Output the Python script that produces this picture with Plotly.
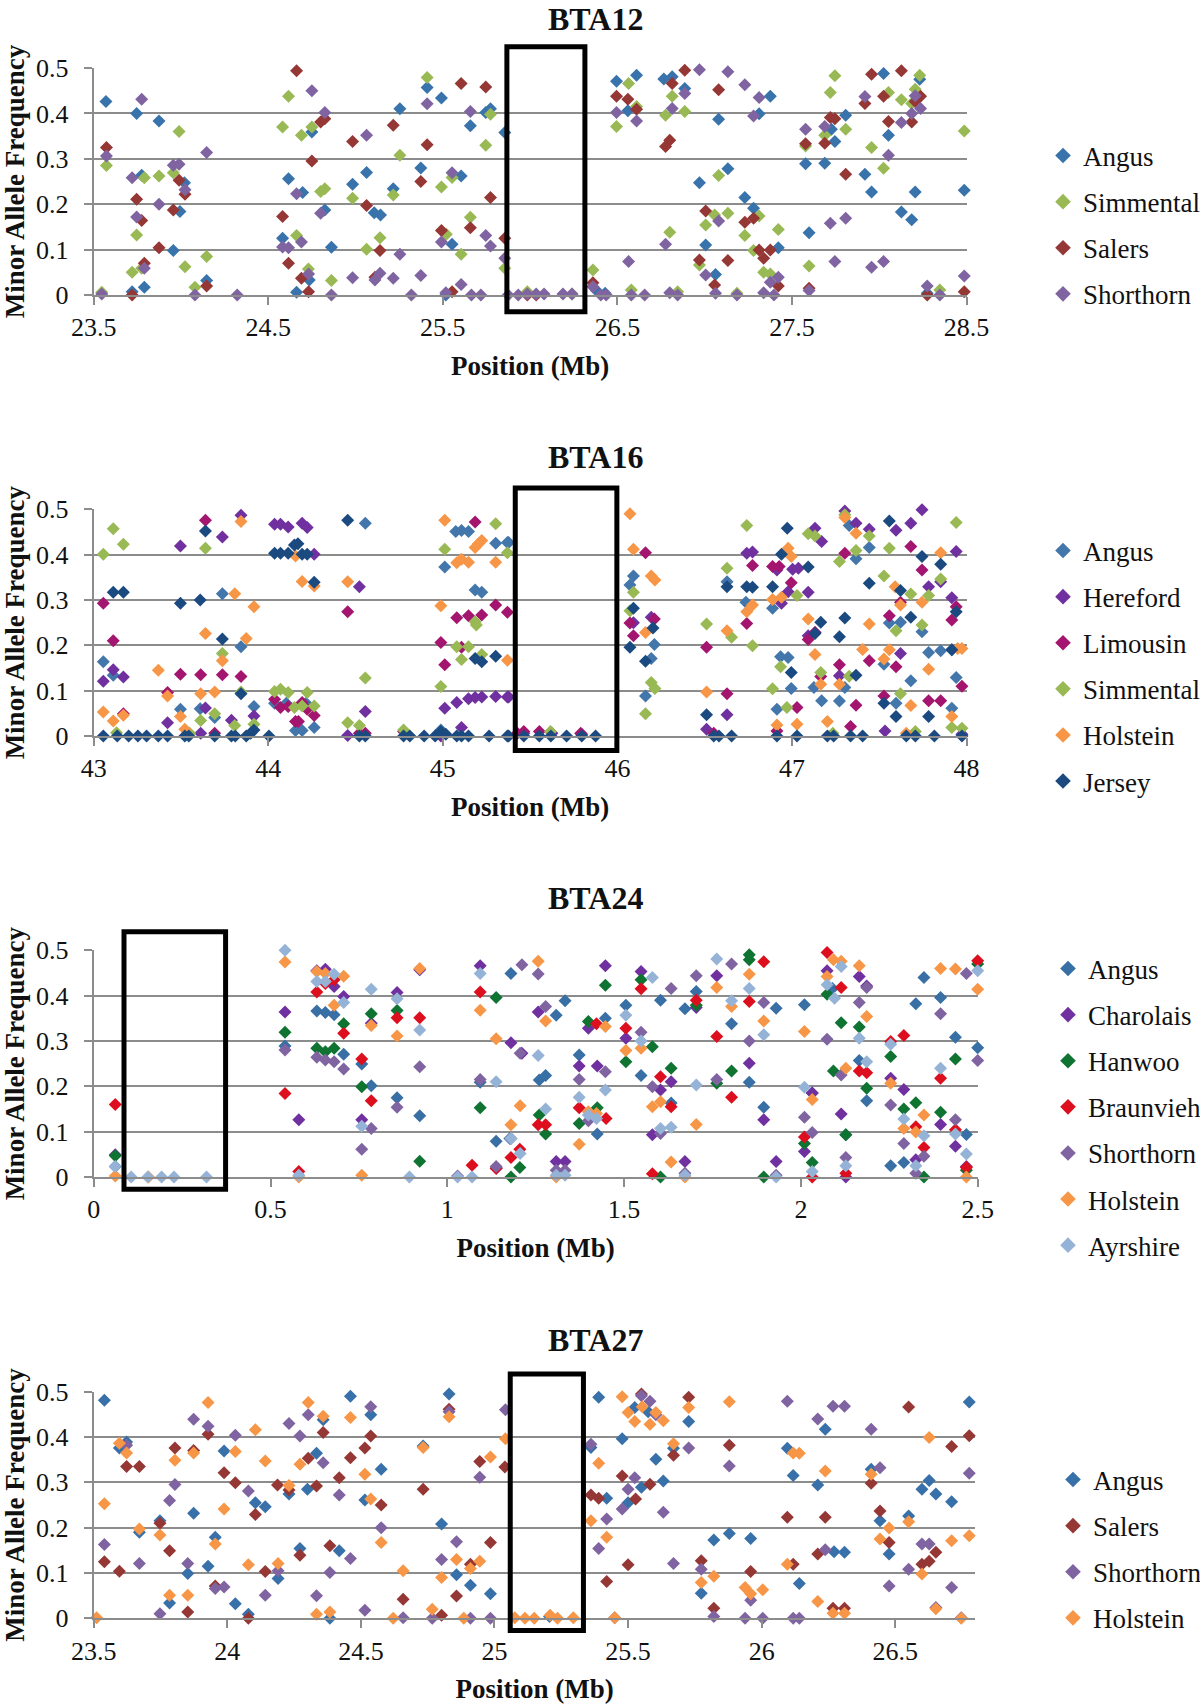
import plotly.graph_objects as go

FONT = "Liberation Serif"
GREY = "#8c8c8c"

# ---------- BTA12 ----------
bta12_angus = [(23.57,.426),(23.746,.40),(23.874,.383),(23.775,.264),(24.02,.247),(23.994,.184),(23.956,.098),(23.79,.017),(23.72,.007),(24.147,.032),(24.616,.256),(24.697,.226),(24.75,.359),(24.582,.125),(24.662,.006),(24.735,.033),(24.824,.187),(24.862,.105),(24.983,.244),(25.063,.27),(25.107,.181),(25.143,.176),(25.216,.234),(25.254,.41),(25.374,.28),(25.41,.457),(25.492,.434),(25.605,.262),(25.553,.112),(25.658,.373),(25.746,.402),(25.773,.41),(25.855,.358),(25.517,0),(26.495,.471),(26.61,.484),(26.56,.406),(26.766,.476),(26.814,.481),(26.886,.455),(26.97,.247),(27.08,.387),(27.133,.278),(27.23,.215),(27.28,.191),(27.312,.399),(27.376,.438),(27.422,.104),(27.006,.11),(27.062,.045),(27.578,.289),(27.688,.29),(27.746,.338),(27.726,.365),(27.808,.396),(27.598,.137),(27.918,.266),(27.956,.227),(28.025,.488),(28.053,.352),(28.127,.183),(28.186,.166),(28.206,.227),(28.232,.475),(28.487,.231),(28.275,.004),(26.38,.01),(26.43,.004)]
bta12_simmental = [(23.546,.006),(23.573,.285),(23.72,.05),(23.746,.132),(23.775,.059),(23.79,.258),(23.874,.262),(23.956,.269),(23.989,.36),(24.023,.062),(24.08,.017),(24.147,.085),(24.582,.37),(24.616,.438),(24.662,.131),(24.69,.352),(24.75,.37),(24.73,.057),(24.8,.228),(24.824,.234),(24.862,.032),(24.983,.213),(25.063,.101),(25.14,.126),(25.254,.308),(25.216,.22),(25.41,.479),(25.492,.238),(25.52,.134),(25.553,.259),(25.605,.09),(25.658,.171),(25.746,.33),(25.773,.398),(25.855,.059),(25.984,.007),(26.24,.002),(26.36,.055),(26.495,.371),(26.564,.466),(26.61,.415),(26.58,.011),(26.776,.396),(26.814,.438),(26.886,.404),(26.845,.007),(26.8,.138),(26.97,.066),(27.006,.154),(27.057,.176),(27.08,.263),(27.133,.18),(27.185,.004),(27.23,.131),(27.28,.098),(27.312,.174),(27.338,.05),(27.376,.046),(27.422,.144),(27.578,.328),(27.598,.064),(27.688,.352),(27.72,.446),(27.746,.483),(27.808,.365),(27.956,.325),(28.025,.279),(28.053,.446),(28.127,.43),(28.186,.422),(28.206,.453),(28.232,.484),(28.347,.011),(28.487,.361)]
bta12_salers = [(23.573,.325),(23.72,0),(23.746,.211),(23.775,.164),(23.79,.07),(23.874,.104),(23.956,.187),(23.989,.253),(24.023,.222),(24.147,.02),(24.582,.173),(24.616,.07),(24.662,.494),(24.69,.037),(24.731,.007),(24.75,.295),(24.8,.381),(24.824,.388),(24.983,.338),(25.063,.197),(25.14,.098),(25.111,.039),(25.216,.374),(25.374,.25),(25.41,.331),(25.492,.142),(25.553,.007),(25.605,.466),(25.658,.148),(25.746,.458),(25.773,.215),(25.855,.125),(25.984,0),(26.035,0),(26.36,.027),(26.495,.438),(26.56,.431),(26.61,.409),(26.8,.341),(26.776,.327),(26.814,.466),(26.886,.495),(26.97,.077),(27.006,.185),(27.057,.022),(27.08,.452),(27.133,.076),(27.23,.16),(27.28,.169),(27.312,.099),(27.338,.081),(27.376,.099),(27.422,.02),(27.578,.333),(27.598,.015),(27.688,.334),(27.72,.391),(27.746,.388),(27.808,.266),(27.918,.422),(27.956,.486),(28.025,.438),(28.053,.382),(28.127,.494),(28.186,.381),(28.206,.426),(28.237,.438),(28.275,0),(28.487,.007)]
bta12_shorthorn = [(23.546,.002),(23.573,.306),(23.72,.258),(23.746,.172),(23.775,.431),(23.79,.059),(23.874,.2),(23.956,.286),(23.989,.288),(24.023,.232),(24.08,0),(24.147,.314),(24.322,0),(24.582,.106),(24.616,.104),(24.662,.223),(24.69,.117),(24.731,.046),(24.75,.45),(24.8,.18),(24.824,.402),(24.862,0),(24.983,.038),(25.063,.352),(25.111,.033),(25.14,.048),(25.216,.037),(25.254,.09),(25.32,0),(25.374,.043),(25.41,.421),(25.492,.117),(25.517,.005),(25.553,.269),(25.605,.023),(25.658,.404),(25.664,0),(25.718,0),(25.746,.131),(25.773,.108),(25.855,.081),(25.874,0),(25.932,0),(25.984,.002),(26.035,.002),(26.08,.002),(26.188,.002),(26.24,.002),(26.36,.018),(26.405,0),(26.436,0),(26.495,.402),(26.564,.074),(26.58,0),(26.61,.383),(26.656,0),(26.776,.112),(26.8,.005),(26.814,.411),(26.845,0),(26.886,.444),(26.97,.496),(27.006,.044),(27.062,.004),(27.08,.163),(27.133,.492),(27.185,0),(27.23,.463),(27.28,.394),(27.312,.435),(27.338,.005),(27.376,.028),(27.397,0),(27.422,.039),(27.578,.365),(27.598,.01),(27.688,.371),(27.72,.158),(27.746,.074),(27.808,.169),(27.918,.437),(27.956,.061),(28.025,.074),(28.053,.308),(28.127,.38),(28.186,.4),(28.206,.439),(28.237,.411),(28.275,.02),(28.347,0),(28.487,.042)]

# ---------- BTA16 ----------
bta16_angus = [(43.055,.164),(43.112,.134),(43.497,.059),(43.61,.06),(43.693,.041),(43.737,.314),(43.844,.197),(43.918,.065),(44.036,.072),(44.103,.072),(44.156,.012),(44.194,.012),(44.263,.019),(44.217,.072),(44.556,.469),(45.011,.373),(45.074,.451),(45.107,.453),(45.147,.451),(45.185,.322),(45.223,.317),(45.303,.425),(45.37,.427),(44.989,.013),(45.377,.427),(46.072,.333),(46.092,.353),(46.212,.202),(46.161,.088),(46.194,.171),(46.628,.34),(46.736,.295),(46.889,.282),(46.935,.175),(46.978,.173),(46.914,.059),(46.996,.105),(47.126,.107),(47.17,.078),(47.272,.077),(47.303,.107),(47.328,.464),(47.367,.391),(47.443,.416),(47.527,.158),(47.558,.249),(47.596,.072),(47.622,.251),(47.681,.122),(47.745,.23),(47.783,.184),(47.852,.188),(47.916,.061),(47.941,.129),(47.916,.19)]
bta16_hereford = [(43.055,.121),(43.112,.146),(43.17,.13),(43.423,.029),(43.497,.419),(43.613,.006),(43.64,.062),(43.737,.439),(43.789,.035),(43.844,.487),(43.918,.044),(44.036,.467),(44.07,.467),(44.114,.461),(44.194,.469),(44.223,.46),(44.263,.401),(44.455,.001),(44.522,.329),(44.556,.054),(44.989,0),(45.011,.061),(45.08,.074),(45.107,.019),(45.147,.082),(45.185,.085),(45.223,.086),(45.303,.087),(45.37,.086),(45.377,.086),(45.464,.006),(45.625,.006),(45.796,.004),(46.092,.25),(46.194,.262),(46.511,.015),(46.628,.047),(46.741,.403),(46.774,.406),(46.914,.366),(46.94,.293),(46.978,.318),(47.004,.368),(47.037,.37),(47.093,.317),(47.132,.458),(47.17,.429),(47.093,.221),(47.132,.228),(47.272,.133),(47.303,.496),(47.367,.469),(47.443,.456),(47.533,.011),(47.596,.454),(47.622,.182),(47.681,.469),(47.745,.499),(47.783,.329),(47.852,.34),(47.916,.305),(47.941,.407),(47.974,.004)]
bta16_limousin = [(43.055,.293),(43.112,.21),(43.17,.049),(43.423,.096),(43.497,.136),(43.613,.135),(43.64,.476),(43.693,.006),(43.737,.135),(43.844,.131),(44.036,.081),(44.07,.063),(44.114,.065),(44.156,.032),(44.173,.032),(44.194,.074),(44.223,.059),(44.263,.045),(44.455,.274),(44.522,.006),(44.556,.006),(44.775,.01),(44.989,.206),(45.011,.157),(45.08,.261),(45.107,.196),(45.147,.265),(45.185,.472),(45.223,.267),(45.303,.289),(45.37,.273),(45.427,.006),(45.464,.01),(45.553,.01),(45.79,.006),(46.072,.249),(46.092,.221),(46.161,.404),(46.212,.258),(46.511,.196),(46.552,.006),(46.628,.093),(46.741,.248),(46.774,.376),(46.889,.374),(46.927,.374),(46.914,.011),(46.996,.338),(47.029,.063),(47.093,.213),(47.132,.228),(47.165,.131),(47.272,.157),(47.303,.403),(47.336,.021),(47.367,.068),(47.443,.166),(47.527,.088),(47.558,.265),(47.596,.153),(47.622,.295),(47.681,.418),(47.745,.366),(47.783,.078),(47.852,.078),(47.916,.256),(47.941,.285),(47.974,.11)]
bta16_simmental = [(43.055,.401),(43.112,.457),(43.17,.423),(43.131,.007),(43.55,.006),(43.613,.034),(43.64,.414),(43.693,.049),(43.737,.182),(43.808,.023),(43.844,.097),(43.918,.026),(44.036,.098),(44.07,.103),(44.114,.096),(44.15,.063),(44.194,.066),(44.223,.096),(44.263,.066),(44.455,.029),(44.522,.023),(44.556,.128),(44.775,.013),(44.989,.109),(45.011,.412),(45.08,.197),(45.107,.169),(45.147,.197),(45.185,.252),(45.192,.245),(45.223,.18),(45.303,.468),(45.37,.404),(45.617,.01),(46.072,.276),(46.092,.317),(46.161,.049),(46.194,.118),(46.215,.105),(46.511,.247),(46.628,.37),(46.654,.218),(46.741,.464),(46.774,.199),(46.889,.104),(46.935,.153),(46.971,.063),(47.029,.31),(47.093,.446),(47.132,.441),(47.165,.14),(47.234,.006),(47.272,.385),(47.303,.488),(47.328,.132),(47.367,.409),(47.443,.441),(47.527,.353),(47.558,.414),(47.596,.232),(47.622,.093),(47.681,.313),(47.707,.01),(47.745,.245),(47.783,.31),(47.852,.346),(47.916,.019),(47.974,.017),(47.941,.471)]
bta16_holstein = [(43.055,.053),(43.112,.033),(43.17,.046),(43.37,.145),(43.423,.088),(43.497,.043),(43.522,.015),(43.613,.093),(43.64,.226),(43.693,.097),(43.737,.166),(43.808,.314),(43.844,.473),(43.874,.215),(43.918,.285),(44.156,.397),(44.194,.341),(44.263,.331),(44.455,.34),(44.989,.287),(45.011,.476),(45.08,.382),(45.107,.39),(45.147,.383),(45.185,.416),(45.204,.424),(45.223,.431),(45.303,.383),(45.37,.167),(46.072,.49),(46.092,.412),(46.161,.228),(46.194,.353),(46.215,.344),(46.511,.097),(46.628,.232),(46.741,.274),(46.774,.289),(46.889,.301),(46.914,.024),(46.94,.306),(46.978,.414),(46.996,.396),(47.029,.026),(47.093,.258),(47.132,.18),(47.165,.114),(47.203,.032),(47.272,.114),(47.303,.482),(47.367,.447),(47.405,.191),(47.443,.247),(47.527,.17),(47.558,.19),(47.591,.329),(47.622,.289),(47.655,.006),(47.681,.067),(47.745,.295),(47.783,.147),(47.852,.404),(47.916,.043),(47.949,.193),(47.974,.193)]
bta16_jersey = [(43.055,0),(43.112,.317),(43.135,0),(43.17,.317),(43.2,0),(43.253,0),(43.303,0),(43.37,0),(43.423,0),(43.497,.293),(43.522,0),(43.545,0),(43.61,.3),(43.64,.452),(43.693,0),(43.737,.214),(43.789,0),(43.811,0),(43.844,.093),(43.874,0),(43.899,.006),(43.918,.013),(44.004,0),(44.036,.403),(44.07,.403),(44.114,.403),(44.15,.421),(44.17,.424),(44.194,.401),(44.223,.401),(44.263,.339),(44.455,.476),(44.522,0),(44.556,0),(44.775,0),(44.811,0),(44.893,0),(44.956,0),(44.989,.01),(45.017,.004),(45.08,0),(45.107,0),(45.147,0),(45.185,.171),(45.223,.164),(45.303,.176),(45.265,0),(45.37,0),(45.377,0),(45.464,0),(45.553,0),(45.619,0),(45.709,0),(45.796,0),(45.875,0),(46.072,.196),(46.092,.282),(46.161,.165),(46.204,.238),(46.511,.047),(46.552,0),(46.582,0),(46.628,.329),(46.654,0),(46.741,.329),(46.774,.328),(46.889,.329),(46.914,0),(46.94,.401),(46.973,.458),(46.996,.14),(47.029,0),(47.093,.373),(47.132,.226),(47.165,.251),(47.203,0),(47.239,0),(47.272,.219),(47.303,.26),(47.336,0),(47.367,.134),(47.405,0),(47.443,.337),(47.527,.072),(47.558,.474),(47.596,.043),(47.622,.321),(47.655,0),(47.681,.262),(47.707,0),(47.745,.396),(47.783,.043),(47.816,0),(47.852,.379),(47.916,.19),(47.941,.274),(47.974,0)]

# ---------- BTA24 ----------
bta24_angus = [(.061,.023),(.541,.289),(.631,.366),(.655,.363),(.68,.358),(.707,.271),(.758,.249),(.785,.201),(.858,.175),(.922,.135),(1.093,.209),(1.138,.079),(1.18,.449),(1.26,.214),(1.278,.224),(1.308,.357),(1.333,.389),(1.373,.269),(1.424,.095),(1.447,.35),(1.505,.379),(1.548,.224),(1.603,.39),(1.633,.163),(1.672,.371),(1.704,.409),(1.804,.338),(1.854,.209),(1.895,.154),(1.93,.372),(2.01,.38),(2.032,.185),(2.089,.416),(2.127,.093),(2.165,.257),(2.186,.168),(2.254,.025),(2.291,.032),(2.325,.382),(2.348,.44),(2.395,.396),(2.437,.308),(2.468,.094),(2.5,.285),(1.177,.085)]
bta24_charolais = [(.061,.049),(.541,.364),(.58,.126),(.631,.455),(.655,.458),(.68,.42),(.707,.398),(.758,.126),(.785,.339),(.858,.407),(.922,.457),(1.093,.466),(1.18,.296),(1.139,.02),(1.211,.273),(1.257,.364),(1.308,.034),(1.333,.034),(1.373,.245),(1.399,.328),(1.424,.245),(1.447,.466),(1.505,.306),(1.548,.453),(1.58,.093),(1.603,.192),(1.633,.21),(1.672,.034),(1.704,.374),(1.762,.444),(1.854,.251),(1.895,.126),(1.93,.034),(2.01,.056),(2.032,.185),(2.074,.455),(2.095,.501),(2.114,.139),(2.127,0),(2.165,.442),(2.186,.421),(2.254,.218),(2.291,.193),(2.325,.038),(2.395,.116),(2.437,.068),(2.468,.023)]
bta24_hanwoo = [(.061,.047),(.541,.319),(.631,.284),(.655,.276),(.68,.284),(.707,.338),(.758,.199),(.785,.36),(.858,.367),(.922,.035),(1.093,.153),(1.138,.396),(1.18,0),(1.205,.021),(1.26,.137),(1.278,.095),(1.373,.118),(1.399,.343),(1.424,.153),(1.447,.423),(1.505,.254),(1.548,.435),(1.58,.287),(1.603,0),(1.633,.24),(1.704,.379),(1.762,.207),(1.804,.234),(1.854,.49),(1.854,.479),(1.895,0),(2.01,.074),(2.032,.032),(2.074,.403),(2.092,.234),(2.114,.34),(2.127,.093),(2.165,.331),(2.186,.196),(2.254,.266),(2.291,.15),(2.325,.164),(2.348,0),(2.395,.143),(2.437,.26),(2.468,.015),(2.5,.47)]
bta24_braunvieh = [(.061,.16),(.541,.184),(.58,.012),(.631,.408),(.655,.427),(.68,.435),(.707,.317),(.758,.26),(.785,.168),(.858,.351),(.922,.351),(1.07,.026),(1.093,.408),(1.138,.019),(1.18,.043),(1.205,.061),(1.257,.115),(1.278,.115),(1.373,.153),(1.422,.338),(1.449,.129),(1.505,.328),(1.548,.415),(1.58,.007),(1.603,.221),(1.633,.155),(1.704,.39),(1.762,.31),(1.804,.176),(1.854,.387),(1.895,.475),(2.01,.088),(2.032,0),(2.074,.495),(2.114,.418),(2.127,.008),(2.165,.234),(2.186,.23),(2.254,.299),(2.291,.312),(2.325,.111),(2.348,.065),(2.395,.218),(2.437,.104),(2.468,.021),(2.5,.477)]
bta24_shorthorn = [(.541,.28),(.631,.264),(.655,.258),(.68,.254),(.707,.238),(.758,.061),(.785,.107),(.858,.154),(.922,.243),(1.029,.002),(1.093,.215),(1.138,.023),(1.18,.085),(1.206,.273),(1.211,.468),(1.257,.448),(1.278,.376),(1.308,.015),(1.333,.015),(1.373,.215),(1.399,.124),(1.447,.232),(1.548,.319),(1.58,.199),(1.603,.096),(1.633,.416),(1.672,.008),(1.704,.444),(1.762,.215),(1.804,.47),(1.854,.3),(1.895,.385),(1.93,.004),(2.01,.132),(2.032,.098),(2.074,.304),(2.114,.225),(2.127,.043),(2.165,.385),(2.186,.418),(2.254,.159),(2.291,.074),(2.325,.008),(2.348,.046),(2.395,.36),(2.437,.126),(2.468,.449),(2.5,.257)]
bta24_holstein = [(.061,.002),(.541,.474),(.58,0),(.631,.453),(.655,.449),(.68,.379),(.707,.443),(.758,.004),(.785,.334),(.858,.311),(.922,.46),(1.093,.368),(.155,0),(1.138,.305),(1.18,.115),(1.206,.157),(1.257,.476),(1.278,.344),(1.308,0),(1.373,.072),(1.399,.144),(1.422,.14),(1.447,.332),(1.505,.279),(1.548,.284),(1.58,.155),(1.603,.166),(1.633,.033),(1.672,0),(1.704,.116),(1.762,.418),(1.804,.376),(1.854,.447),(1.895,.344),(2.01,.321),(2.032,.171),(2.074,.442),(2.092,.479),(2.114,.476),(2.127,.24),(2.165,.466),(2.186,.354),(2.254,.207),(2.291,.107),(2.325,.099),(2.348,.137),(2.395,.46),(2.437,.459),(2.468,0),(2.5,.414)]
bta24_ayrshire = [(.061,.023),(.106,0),(.153,0),(.192,0),(.227,0),(.319,0),(.541,.5),(.58,.004),(.631,.431),(.655,.431),(.68,.447),(.707,.385),(.758,.112),(.785,.414),(.858,.393),(.893,0),(.922,.324),(1.029,0),(1.07,0),(1.093,.449),(1.138,.21),(1.18,.085),(1.206,.052),(1.257,.268),(1.278,.15),(1.308,.004),(1.333,.004),(1.373,.176),(1.399,.137),(1.422,.129),(1.447,.192),(1.505,.357),(1.548,.3),(1.58,.44),(1.603,.107),(1.633,.11),(1.672,.004),(1.704,.203),(1.762,.481),(1.804,.389),(1.854,.416),(1.895,.314),(1.93,0),(2.01,.198),(2.032,.012),(2.074,.424),(2.095,.394),(2.114,.464),(2.127,.025),(2.165,.306),(2.186,.254),(2.254,.293),(2.291,.128),(2.325,.025),(2.348,.091),(2.395,.24),(2.437,.095),(2.468,.051),(2.5,.455)]

# ---------- BTA27 ----------
bta27_angus = [(23.54,.481),(23.596,.376),(23.623,.389),(23.671,.19),(23.748,.215),(23.784,.034),(23.852,.099),(23.874,.232),(23.928,.115),(23.955,.179),(23.988,.369),(24.03,.032),(24.079,.009),(24.105,.255),(24.142,.246),(24.19,.088),(24.231,.274),(24.272,.154),(24.3,.285),(24.334,.364),(24.359,.438),(24.384,0),(24.419,.149),(24.461,.49),(24.515,.261),(24.537,.449),(24.576,.329),(24.733,.38),(24.802,.208),(24.83,.495),(24.858,.096),(24.91,.073),(24.985,.054),(25.206,.004),(25.361,.377),(25.39,.488),(25.42,.265),(25.478,.396),(25.5,.255),(25.525,.465),(25.55,.289),(25.575,.456),(25.604,.351),(25.632,.303),(25.67,.375),(25.727,.434),(25.774,.055),(25.821,.173),(25.879,.187),(25.959,.176),(26.096,.375),(26.118,.315),(26.141,.077),(26.21,.294),(26.238,.417),(26.271,.147),(26.31,.146),(26.41,.329),(26.443,.215),(26.477,.142),(26.55,.226),(26.6,.285),(26.627,.304),(26.652,.274),(26.711,.257),(26.777,.477)]
bta27_salers = [(23.54,.125),(23.596,.104),(23.623,.335),(23.671,.335),(23.748,.21),(23.784,.149),(23.804,.376),(23.852,.014),(23.874,.37),(23.928,.406),(23.955,.071),(23.988,.321),(24.03,.299),(24.079,0),(24.105,.229),(24.142,.103),(24.188,.294),(24.231,.283),(24.272,.139),(24.303,.353),(24.334,.292),(24.359,.41),(24.384,.16),(24.419,.31),(24.461,.354),(24.515,.376),(24.537,.402),(24.576,.25),(24.658,.042),(24.733,.285),(24.802,.007),(24.83,.461),(24.858,.049),(24.91,.119),(24.945,.346),(24.985,.167),(25.039,.334),(25.361,.272),(25.39,.265),(25.42,.081),(25.478,.314),(25.5,.118),(25.528,.263),(25.55,.495),(25.582,.296),(25.604,.502),(25.67,.36),(25.727,.488),(25.774,.127),(25.821,.022),(25.879,.382),(25.959,.103),(26.096,.223),(26.118,.119),(26.21,.142),(26.238,.223),(26.267,.022),(26.31,.022),(26.41,.298),(26.443,.237),(26.477,.167),(26.55,.466),(26.6,.119),(26.627,.126),(26.652,.146),(26.711,.379),(26.777,.403)]
bta27_shorthorn = [(23.54,.163),(23.623,.382),(23.671,.121),(23.748,.01),(23.784,.26),(23.804,.295),(23.852,.121),(23.874,.439),(23.928,.424),(23.955,.066),(23.988,.069),(24.03,.404),(24.079,.281),(24.142,.051),(24.19,.105),(24.231,.43),(24.272,.402),(24.303,.449),(24.334,.05),(24.359,.343),(24.384,.101),(24.419,.272),(24.461,.132),(24.515,.018),(24.537,.467),(24.576,.2),(24.658,.001),(24.767,0),(24.802,.13),(24.83,.456),(24.858,.169),(24.91,0),(24.945,.311),(24.985,0),(25.041,.46),(25.361,.384),(25.39,.154),(25.42,.219),(25.478,.241),(25.5,.285),(25.525,.31),(25.55,.491),(25.582,.479),(25.604,.449),(25.632,.234),(25.67,.121),(25.727,.376),(25.774,.108),(25.821,.004),(25.879,.336),(25.938,0),(25.959,.04),(26.004,0),(26.096,.479),(26.118,0),(26.141,0),(26.21,.44),(26.238,.151),(26.267,.468),(26.31,.468),(26.41,.417),(26.443,.332),(26.477,.071),(26.55,.108),(26.6,.164),(26.627,.164),(26.652,.024),(26.711,.068),(26.777,.32),(26.747,.001),(25.45,.001)]
bta27_holstein = [(23.511,.001),(23.54,.253),(23.596,.386),(23.623,.365),(23.671,.197),(23.748,.184),(23.784,.051),(23.804,.349),(23.852,.051),(23.874,.365),(23.928,.476),(23.955,.164),(23.988,.241),(24.03,.368),(24.079,.118),(24.105,.416),(24.142,.347),(24.19,.121),(24.231,.293),(24.272,.34),(24.303,.476),(24.334,.009),(24.359,.446),(24.384,.014),(24.419,.501),(24.461,.443),(24.515,.318),(24.537,.263),(24.576,.167),(24.621,0),(24.658,.105),(24.733,.377),(24.767,.02),(24.802,.09),(24.83,.445),(24.858,.13),(24.885,0),(24.91,.11),(24.945,.126),(24.985,.356),(25.041,.396),(25.076,.001),(25.114,0),(25.149,0),(25.208,.007),(25.236,0),(25.295,.001),(25.361,.215),(25.39,.342),(25.42,.179),(25.45,.001),(25.478,.489),(25.5,.454),(25.525,.434),(25.553,.467),(25.582,.428),(25.604,.454),(25.632,.436),(25.67,.385),(25.727,.465),(25.774,.079),(25.821,.093),(25.879,.478),(25.938,.068),(25.959,.054),(26.004,.063),(26.096,.119),(26.118,.365),(26.141,.364),(26.21,.037),(26.238,.325),(26.267,.011),(26.31,.011),(26.41,.318),(26.443,.175),(26.477,.199),(26.55,.213),(26.6,.098),(26.627,.399),(26.652,.021),(26.711,.171),(26.747,0),(26.777,.182)]

W, H = 1200, 1704
panels = [
    dict(title="BTA12", xl=93.7, xr=966.5, y0=295.0, y5=68.0, xrange=[23.5, 28.5], tick0=23.5, dtick=1,
         rect=[25.867, 26.314, -0.037, 0.547], title_y=19,
         legend_x=1081, legend_y=225,
         series=[("Angus", bta12_angus, "#3873AC"), ("Simmental", bta12_simmental, "#98B954"),
                 ("Salers", bta12_salers, "#953735"), ("Shorthorn", bta12_shorthorn, "#8064A2")]),
    dict(title="BTA16", xl=93.7, xr=966.5, y0=736.0, y5=509.3, xrange=[43, 48], tick0=43, dtick=1,
         rect=[45.415, 45.997, -0.032, 0.547], title_y=457,
         legend_x=1081, legend_y=666,
         series=[("Angus", bta16_angus, "#4377AB"), ("Hereford", bta16_hereford, "#7030A0"),
                 ("Limousin", bta16_limousin, "#A3156F"), ("Simmental", bta16_simmental, "#98B954"),
                 ("Holstein", bta16_holstein, "#F79646"), ("Jersey", bta16_jersey, "#1B4A80")]),
    dict(title="BTA24", xl=93.7, xr=977.7, y0=1177.0, y5=950.3, xrange=[0, 2.5], tick0=0, dtick=0.5,
         rect=[0.0857, 0.373, -0.027, 0.541], title_y=898,
         legend_x=1086, legend_y=1107,
         series=[("Angus", bta24_angus, "#386FA4"), ("Charolais", bta24_charolais, "#7030A0"),
                 ("Hanwoo", bta24_hanwoo, "#0F7332"), ("Braunvieh", bta24_braunvieh, "#DD0F1E"),
                 ("Shorthorn", bta24_shorthorn, "#8064A2"), ("Holstein", bta24_holstein, "#F79646"),
                 ("Ayrshire", bta24_ayrshire, "#95B3D7")]),
    dict(title="BTA27", xl=93.7, xr=975.4, y0=1618.3, y5=1391.7, xrange=[23.5, 26.8], tick0=23.5, dtick=0.5,
         rect=[25.059, 25.333, -0.027, 0.539], title_y=1340,
         legend_x=1091, legend_y=1549,
         series=[("Angus", bta27_angus, "#3871A9"), ("Salers", bta27_salers, "#953735"),
                 ("Shorthorn", bta27_shorthorn, "#8064A2"), ("Holstein", bta27_holstein, "#F79646")]),
]

fig = go.Figure()
layout = dict(width=W, height=H, margin=dict(l=0, r=0, t=0, b=0, autoexpand=False), paper_bgcolor="white",
              plot_bgcolor="white", font=dict(family=FONT, color="#111111"), showlegend=True)
shapes, annotations = [], []

for i, p in enumerate(panels, start=1):
    sfx = "" if i == 1 else str(i)
    xname, yname, lname = "xaxis" + sfx, "yaxis" + sfx, "legend" + sfx
    layout[xname] = dict(domain=[p["xl"] / W, p["xr"] / W], range=p["xrange"], anchor="y" + sfx,
                         tick0=p["tick0"], dtick=p["dtick"], ticks="outside", ticklen=8, tickwidth=2,
                         tickcolor=GREY, showline=True, linecolor=GREY, linewidth=2, showgrid=False,
                         zeroline=False, tickfont=dict(size=26, family=FONT, color="#111111"),
                         title=dict(text="<b>Position (Mb)</b>", standoff=15,
                                    font=dict(size=27, family=FONT, color="#111111")))
    layout[yname] = dict(domain=[1 - p["y0"] / H, 1 - p["y5"] / H], range=[0, 0.5], anchor="x" + sfx,
                         tick0=0, dtick=0.1, ticks="outside", ticklen=8, tickwidth=2,
                         tickcolor=GREY, showline=True, linecolor=GREY, linewidth=2, showgrid=True,
                         gridcolor=GREY, gridwidth=2, zeroline=False, ticklabelstandoff=10,
                         tickfont=dict(size=26, family=FONT, color="#111111"),
                         title=dict(text="<b>Minor Allele Frequency</b>", standoff=8,
                                    font=dict(size=27, family=FONT, color="#111111")))
    layout[lname] = dict(x=(p["legend_x"] - 38) / W, y=1 - p["legend_y"] / H, xanchor="left", yanchor="middle",
                         font=dict(size=27, family=FONT, color="#111111"), tracegroupgap=8,
                         bgcolor="rgba(0,0,0,0)", itemsizing="constant", itemwidth=30)
    for name, pts, colour in p["series"]:
        fig.add_trace(go.Scatter(x=[a for a, _ in pts], y=[b for _, b in pts], mode="markers", name=name,
                                 xaxis="x" + sfx, yaxis="y" + sfx, legend=lname, legendgroup=f"{p['title']}{name}",
                                 cliponaxis=False,
                                 marker=dict(symbol="diamond", size=10, color=colour, line=dict(width=0))))
    x0, x1, yb, yt = p["rect"]
    shapes.append(dict(type="rect", xref="x" + sfx, yref=f"y{sfx} domain", x0=x0, x1=x1, y0=yb / 0.5, y1=yt / 0.5,
                       line=dict(color="black", width=5), fillcolor="rgba(0,0,0,0)", layer="above"))
    annotations.append(dict(text=f"<b>{p['title']}</b>", xref="paper", yref="paper", x=595 / W,
                            y=1 - p["title_y"] / H, showarrow=False, xanchor="center", yanchor="middle",
                            font=dict(size=32, family=FONT, color="#111111")))

layout["shapes"] = shapes
layout["annotations"] = annotations
fig.update_layout(**layout)
fig.write_html("out.html", config=dict(displayModeBar=False), post_script="document.body.style.margin='0';")
